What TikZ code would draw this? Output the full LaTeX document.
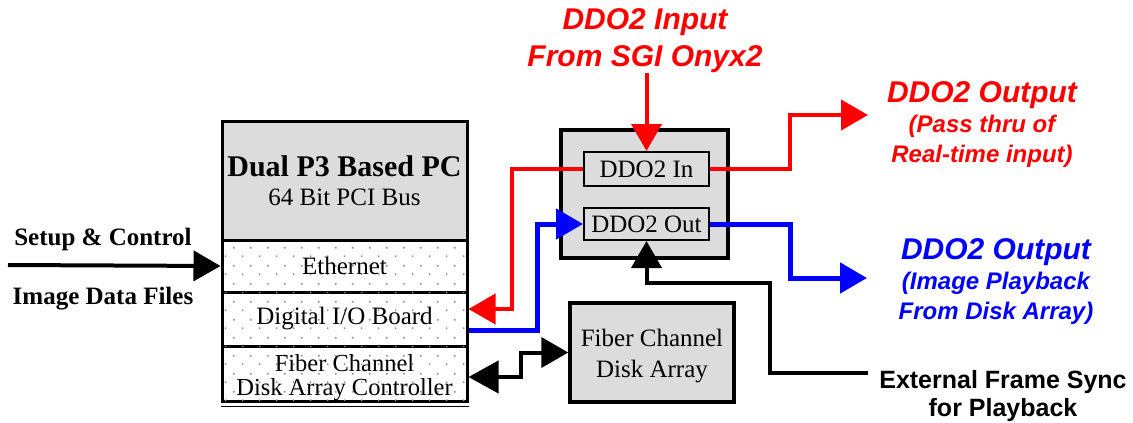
\documentclass[tikz,border=0pt]{standalone}
\usepackage{fontspec}
\setmainfont{Liberation Serif}
\newfontfamily\arialfont{Liberation Sans}
\usetikzlibrary{arrows.meta,patterns.meta}

\definecolor{boxgray}{RGB}{220,220,220}
\definecolor{ddored}{RGB}{255,0,0}
\definecolor{ddoblue}{RGB}{0,0,255}

\tikzdeclarepattern{
  name=sparsedots,
  type=uncolored,
  bottom left={(0pt,0pt)},
  top right={(17pt,18pt)},
  tile size={(17pt,18pt)},
  code={
    \fill (4pt,4pt) rectangle (5.8pt,5.8pt);
    \fill (12.5pt,13pt) rectangle (14.3pt,14.8pt);
  }
}

\tikzset{
  pcpart/.style={draw, line width=3pt, minimum width=245pt, inner sep=0pt,
    align=center, font=\fontsize{25}{29}\selectfont},
  slot/.style={pcpart, fill=white, postaction={pattern=sparsedots, pattern color=gray!85}},
  unit/.style={draw, fill=boxgray, inner sep=0pt, align=center,
    font=\fontsize{25}{31}\selectfont},
  sig/.style={line width=4pt, -{Triangle[length=27pt,width=30pt]}},
  outlbl/.style={font=\arialfont\bfseries\itshape\fontsize{24}{30}\selectfont,
    align=center, inner sep=0pt},
  sidelbl/.style={font=\bfseries\fontsize{25}{30}\selectfont, inner sep=0pt, anchor=base}
}

\begin{document}
\begin{tikzpicture}[x=1pt, y=-1pt]
  \useasboundingbox (0,0) rectangle (1133,423);

  % PC with its boards
  \node[pcpart, fill=boxgray, minimum height=119pt] (pc) at (344.5,180.5)
    {{\bfseries\fontsize{30}{30}\selectfont Dual P3 Based PC}\\64 Bit PCI Bus};
  \node[slot, minimum height=52pt] (eth) at (344.5,266) {Ethernet};
  \node[slot, minimum height=54pt] (dio) at (344.5,319) {Digital I/O Board};
  \node[slot, minimum height=55pt, font=\fontsize{24.5}{24}\selectfont] (fcc) at (344.5,373.5)
    {\rule{0pt}{25pt}Fiber Channel\\Disk Array Controller};
  \draw[line width=1pt] ([yshift=-3.5pt]fcc.south west) -- ([yshift=-3.5pt]fcc.south east);

  % DDO2 unit
  \node[unit, line width=4pt, minimum width=167pt, minimum height=128pt] (ddo) at (644.5,194) {};
  \node[unit, line width=2pt, minimum width=125pt, minimum height=34pt] (ddoin) at (646.5,169) {DDO2 In};
  \node[unit, line width=2pt, minimum width=125pt, minimum height=32pt] (ddoout) at (646.5,224) {DDO2 Out};

  % disk array
  \node[unit, line width=3.5pt, minimum width=164pt, minimum height=99pt] (fcda) at (652,352.5)
    {\rule{0pt}{25pt}Fiber Channel\\Disk Array};

  % labels
  \node[outlbl, text=ddored, font=\arialfont\bfseries\itshape\fontsize{30}{37}\selectfont] (inlbl) at (645,41)
    {DDO2 Input\\From SGI Onyx2};
  \node[outlbl, text=ddored] (passlbl) at (982,125)
    {{\fontsize{30}{30}\selectfont DDO2 Output}\\(Pass thru of\\Real-time input)};
  \node[outlbl, text=ddoblue] (playlbl) at (996,282)
    {{\fontsize{30}{30}\selectfont DDO2 Output}\\(Image Playback\\From Disk Array)};
  \node[font=\arialfont\bfseries\fontsize{25}{28}\selectfont, align=center, inner sep=0pt] (synclbl) at (1003,396)
    {External Frame Sync\\for Playback};
  \node[sidelbl] (setuplbl) at (103,245) {Setup \& Control};
  \node[sidelbl] (imglbl) at (103,304) {Image Data Files};

  % free ends
  \coordinate (setupin) at (8,265);
  \coordinate (redtip) at (868,115);
  \coordinate (bluetip) at (867,278);
  \coordinate (syncin) at (868,373);

  % connectors
  \draw[sig] (setupin) -- (eth.west);
  \draw[sig, ddored] (ddoin.north |- inlbl.south) -- (ddoin.north);
  \draw[sig, ddored] (ddoin.west) -- ++(-71,0) |- ([yshift=10pt]dio.east);
  \draw[sig, ddoblue, line width=5pt] ([yshift=-11pt]dio.east) -- ++(69,0) |- (ddoout.west);
  \draw[sig, ddored] (ddoin.east) -- ++(80,0) |- (redtip);
  \draw[sig, ddoblue, line width=5pt] (ddoout.east) -- ++(80,0) |- (bluetip);
  \draw[sig] (syncin) -- ++(-98,0) -- ++(0,-90) -| (ddoout.south);
  \draw[line width=4pt, {Triangle[length=30pt,width=32pt]}-{Triangle[length=27pt,width=30pt]}]
    ([yshift=-3.5pt]fcc.east) -- ++(52,0) |- (fcda.west);
\end{tikzpicture}
\end{document}
